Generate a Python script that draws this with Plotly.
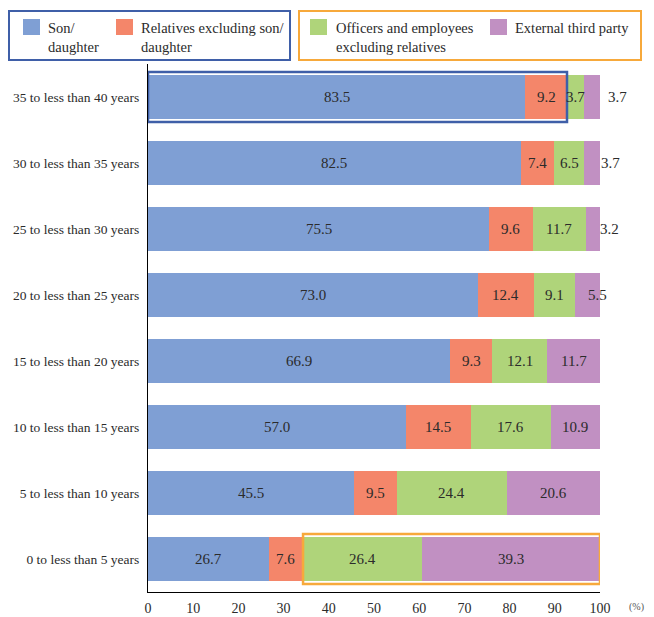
import plotly.graph_objects as go

categories = ["35 to less than 40 years", "30 to less than 35 years", "25 to less than 30 years",
              "20 to less than 25 years", "15 to less than 20 years", "10 to less than 15 years",
              "5 to less than 10 years", "0 to less than 5 years"]
son_daughter = [83.5, 82.5, 75.5, 73.0, 66.9, 57.0, 45.5, 26.7]
relatives = [9.2, 7.4, 9.6, 12.4, 9.3, 14.5, 9.5, 7.6]
officers = [3.7, 6.5, 11.7, 9.1, 12.1, 17.6, 24.4, 26.4]
external = [3.7, 3.7, 3.2, 5.5, 11.7, 10.9, 20.6, 39.3]
x_ticks = [0, 10, 20, 30, 40, 50, 60, 70, 80, 90, 100]

series_names = ["Son/<br>daughter", "Relatives excluding son/<br>daughter",
                "Officers and employees<br>excluding relatives", "External third party"]
series_values = [son_daughter, relatives, officers, external]
colors = ["#7F9FD4", "#F4866A", "#AFD47A", "#C190C2"]

FONT = "Liberation Serif"
TXT = "#2b2b2b"

fig = go.Figure()
for name, vals, col in zip(series_names, series_values, colors):
    fig.add_trace(go.Bar(y=categories, x=vals, orientation="h", name=name,
                         marker=dict(color=col, line=dict(width=0)), showlegend=False))

# value labels; small end segments are nudged outside to the right (px)
outside_shift = {(0, 3): 25, (1, 3): 18, (2, 3): 17, (3, 3): 10}
for i, cat in enumerate(categories):
    cum = 0
    for s, vals in enumerate(series_values):
        v = vals[i]
        center = cum + v / 2
        cum += v
        shift = outside_shift.get((i, s), 0)
        fig.add_annotation(x=center, y=cat, text=f"{v:.1f}", showarrow=False,
                           xshift=shift, font=dict(family=FONT, size=15, color=TXT))

# highlight boxes
top_i = 0
bot_i = len(categories) - 1
fig.add_shape(type="rect", xref="x", yref="y", x0=0, x1=son_daughter[0] + relatives[0],
              y0=top_i - 0.38, y1=top_i + 0.38, line=dict(color="#3F5FA8", width=2.5))
fig.add_shape(type="rect", xref="x", yref="y", x0=son_daughter[-1] + relatives[-1], x1=100,
              y0=bot_i - 0.38, y1=bot_i + 0.38, line=dict(color="#F7A93B", width=2.5))

# legend (manual, pixel-based paper coords)
W, H = 654, 617
ml, mr, mt, mb = 148, 54, 64, 25
pw, ph = W - ml - mr, H - mt - mb

def px(xp):
    return (xp - ml) / pw

def py(yp):
    return 1 - (yp - mt) / ph

fig.add_shape(type="rect", xref="paper", yref="paper", x0=px(9), x1=px(290), y0=py(11), y1=py(60),
              line=dict(color="#3F5FA8", width=2))
fig.add_shape(type="rect", xref="paper", yref="paper", x0=px(299), x1=px(641), y0=py(11), y1=py(60),
              line=dict(color="#F7A93B", width=2))
leg_sq_x = [23, 116, 310, 490]
leg_txt_x = [46, 139, 334, 513]
for name, col, sx, tx in zip(series_names, colors, leg_sq_x, leg_txt_x):
    fig.add_shape(type="rect", xref="paper", yref="paper", x0=px(sx), x1=px(sx + 17),
                  y0=py(19), y1=py(35), fillcolor=col, line=dict(width=0))
    fig.add_annotation(xref="paper", yref="paper", x=px(tx), y=py(18), text=name,
                       showarrow=False, xanchor="left", yanchor="top", align="left",
                       font=dict(family=FONT, size=14.5, color=TXT))

fig.add_annotation(xref="paper", yref="paper", x=px(636), y=py(607), text="(%)", showarrow=False,
                   xanchor="center", yanchor="middle",
                   font=dict(family=FONT, size=10, color="#555"))

fig.update_layout(
    barmode="stack", bargap=0.333, width=W, height=H,
    margin=dict(l=ml, r=mr, t=mt, b=mb, autoexpand=False),
    paper_bgcolor="white", plot_bgcolor="white",
    font=dict(family=FONT, color=TXT),
    xaxis=dict(range=[0, 100], tickvals=x_ticks, showgrid=False, zeroline=False,
               showline=True, linecolor="black", linewidth=1, ticks="",
               tickfont=dict(size=14, family=FONT, color=TXT), ticklabelstandoff=3),
    yaxis=dict(autorange="reversed", showgrid=False, zeroline=False, showline=True,
               linecolor="black", linewidth=1, ticks="",
               tickfont=dict(size=13.5, family=FONT, color=TXT), ticklabelstandoff=5),
)

fig.write_html("out.html")
